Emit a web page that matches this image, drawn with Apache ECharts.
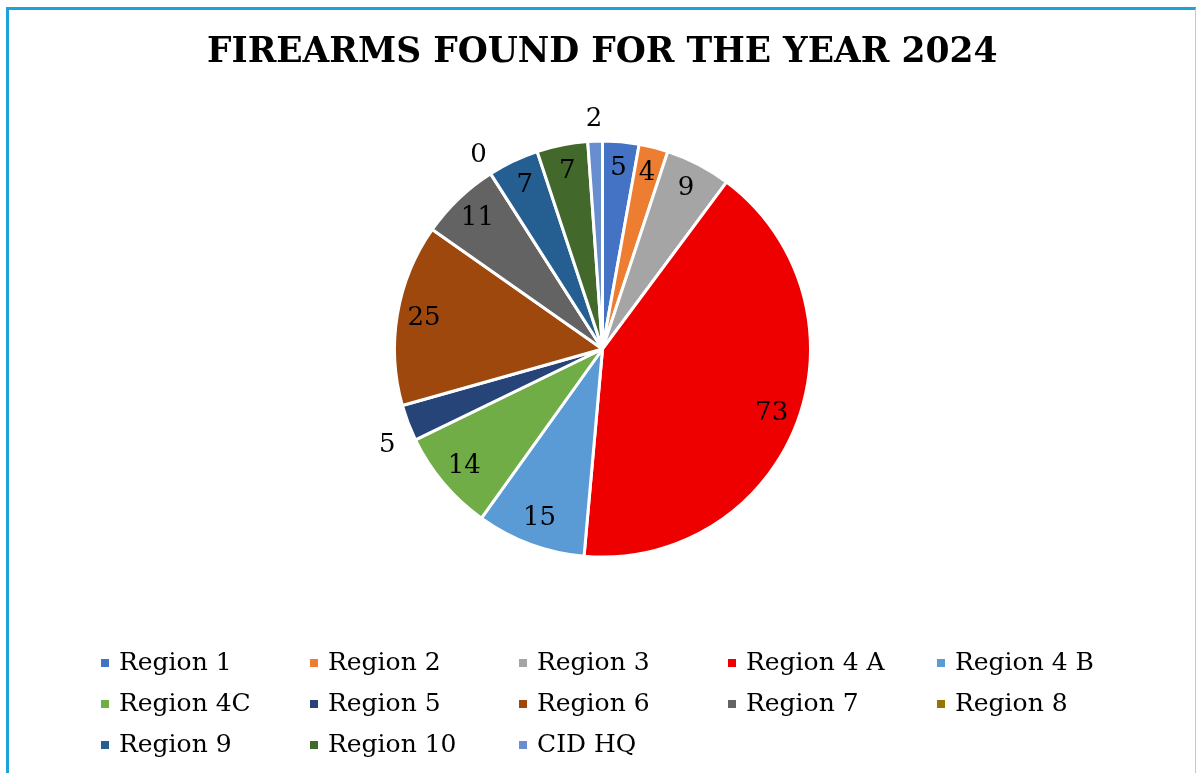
<!DOCTYPE html>
<html>
<head>
<meta charset="utf-8">
<script src="https://cdn.jsdelivr.net/npm/echarts@6/dist/echarts.min.js"></script>
<style>
  html, body { margin: 0; padding: 0; background: #fff; }
  #frame { position: absolute; left: 6px; top: 7px; width: 1186px; height: 800px;
           border-left: 3px solid #1EA2DA; border-top: 3px solid #1EA2DA; border-right: 1px solid #9ED6EE; }
  #chart { position: absolute; left: 0; top: 0; width: 1196px; height: 773px; }
</style>
</head>
<body>
<div id="frame"></div>
<div id="chart"></div>
<script>
const categories = ['Region 1', 'Region 2', 'Region 3', 'Region 4 A', 'Region 4 B', 'Region 4C',
                    'Region 5', 'Region 6', 'Region 7', 'Region 8', 'Region 9', 'Region 10', 'CID HQ'];
const values = [5, 4, 9, 73, 15, 14, 5, 25, 11, 0, 7, 7, 2];
const colors = ['#4472C4', '#ED7D31', '#A5A5A5', '#EE0000', '#5B9BD5', '#70AD47',
                '#264478', '#9E480E', '#636363', '#997300', '#255E91', '#43682B', '#698ED0'];
const outsideLabels = ['Region 5', 'Region 8', 'CID HQ'];

const FONT = '"DejaVu Serif", "Liberation Serif", serif';

const pieData = categories.map((c, i) => ({
  name: c, value: values[i], itemStyle: { color: colors[i] }
}));

const labelData = categories.map((c, i) => {
  const out = outsideLabels.indexOf(c) >= 0;
  return {
    name: c, value: values[i],
    label: { position: out ? 'outside' : 'inside', offset: c === 'Region 5' ? [0, 14] : [0, 0] },
    labelLine: { show: false, length: 22, length2: 0 }
  };
});

const chart = echarts.init(document.getElementById('chart'), null, { renderer: 'canvas' });
chart.setOption({
  animation: false,
  title: {
    text: 'FIREARMS FOUND FOR THE YEAR 2024',
    left: 202, top: 31,
    textStyle: { fontFamily: FONT, fontWeight: 'bold', fontSize: 34.5, color: '#000' }
  },
  legend: {
    data: categories,
    left: 94, top: 643, width: 1050,
    orient: 'horizontal',
    itemWidth: 10, itemHeight: 10, itemGap: 11,
    icon: 'rect',
    textStyle: { fontFamily: FONT, fontSize: 25, color: '#000', width: 178, lineHeight: 30, padding: [0, 0, 0, 4] }
  },
  series: [
    {
      type: 'pie',
      center: [602.5, 349],
      radius: 208,
      startAngle: 90,
      clockwise: true,
      avoidLabelOverlap: false,
      data: pieData,
      label: { show: false },
      labelLine: { show: false },
      itemStyle: { borderColor: '#fff', borderWidth: 3 }
    },
    {
      type: 'pie',
      center: [602.5, 349],
      radius: [148, 208],
      startAngle: 90,
      clockwise: true,
      avoidLabelOverlap: false,
      silent: true,
      data: labelData,
      itemStyle: { color: 'rgba(0,0,0,0)', borderWidth: 0 },
      label: {
        show: true, formatter: '{c}',
        fontFamily: FONT, fontSize: 26, color: '#000',
        distanceToLabelLine: -8
      },
      labelLine: { show: false }
    }
  ]
});
</script>
</body>
</html>
